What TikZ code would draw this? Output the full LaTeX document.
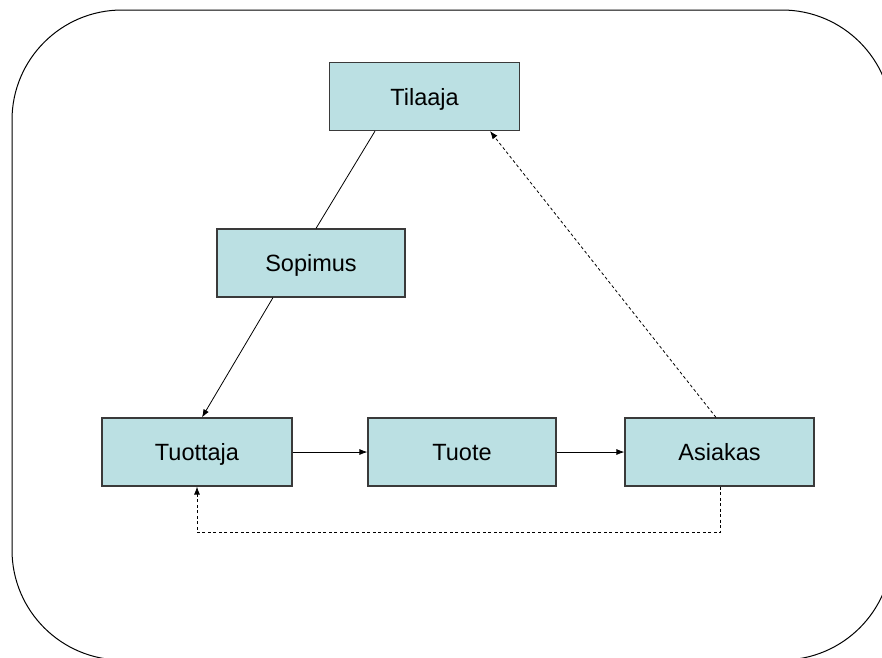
\documentclass[tikz,border=0pt]{standalone}
\usepackage{fontspec}
\setmainfont{Liberation Sans}
\usetikzlibrary{calc,arrows.meta}
\definecolor{boxfill}{HTML}{BBE0E3}
\definecolor{boxline}{HTML}{3A3A3A}
\tikzset{
  box/.style={draw=boxline, line width=1.2pt, fill=boxfill, minimum width=190pt, minimum height=68pt, inner sep=0pt, text height=17pt, text depth=0pt, font=\fontsize{23.5}{28}\selectfont},
  conn/.style={line width=0.8pt, draw=black},
  arr/.style={-{Latex[length=8pt,width=6pt]}},
  dash1/.style={dash pattern=on 3pt off 2.5pt}
}
\begin{document}
\begin{tikzpicture}[x=1pt,y=-1pt]
\useasboundingbox (0,0) rectangle (882,657);
\begin{scope}
\clip (0,0) rectangle (882,657);
\draw[line width=1pt, rounded corners=110pt] (12,10) rectangle (892,660);
\end{scope}
\node[box] (tilaaja) at (424.5,96.5) {Tilaaja};
\node[box, minimum width=188pt] (sopimus) at (311,263) {Sopimus};
\node[box] (tuottaja) at (197,452) {Tuottaja};
\node[box, minimum width=188pt] (tuote) at (462,452) {Tuote};
\node[box, minimum width=189pt] (asiakas) at (719.5,452) {Asiakas};
\draw[conn] ($(tilaaja.south)+(-49.5,0)$) -- ($(sopimus.north)+(5,0)$);
\draw[conn,arr] ($(sopimus.south)+(-38,0)$) -- ($(tuottaja.north)+(5,0)$);
\draw[conn,arr] (tuottaja.east) -- (tuote.west);
\draw[conn,arr] (tuote.east) -- (asiakas.west);
\draw[conn,arr,dash1] ($(asiakas.north)+(-3.5,0)$) -- ($(tilaaja.south)+(65.5,0)$);
\coordinate (c1) at ($(asiakas.south)+(0.5,46)$);
\coordinate (c2) at ($(tuottaja.south)+(0,46)$);
\draw[conn,arr,dash1] ($(asiakas.south)+(0.5,0)$) -- (c1) -- (c2) -- (tuottaja.south);
\end{tikzpicture}
\end{document}
